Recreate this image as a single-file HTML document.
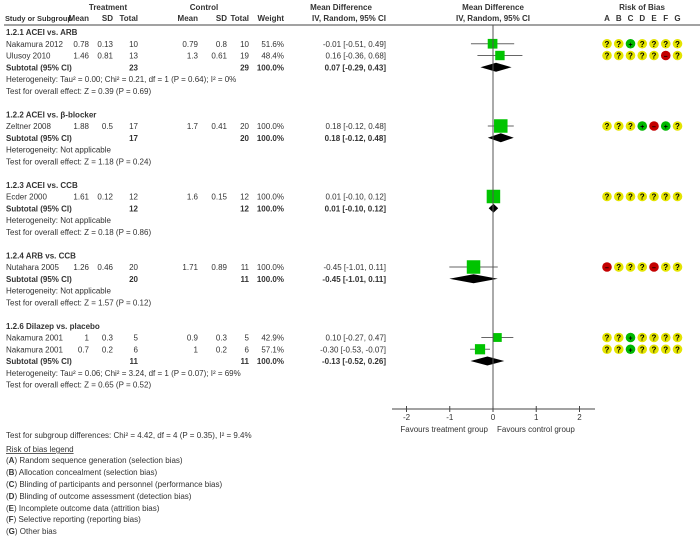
<!DOCTYPE html>
<html><head><meta charset="utf-8">
<style>
html,body{margin:0;padding:0;background:#fff;}
svg{display:block;font-family:"Liberation Sans",Arial,sans-serif;font-size:8px;fill:#333;}
.b{font-weight:bold;}
</style></head>
<body>
<svg id="chart" width="700" height="545" viewBox="0 0 700 545">
<g>
<text x="108" y="10" text-anchor="middle" class="b">Treatment</text>
<text x="204" y="10" text-anchor="middle" class="b">Control</text>
<text x="341" y="10" text-anchor="middle" class="b">Mean Difference</text>
<text x="493" y="10" text-anchor="middle" class="b">Mean Difference</text>
<text x="642" y="10" text-anchor="middle" class="b">Risk of Bias</text>
<text x="5" y="21" class="b" style="font-size:7.4px">Study or Subgroup</text>
<text x="89" y="21" text-anchor="end" class="b">Mean</text>
<text x="113" y="21" text-anchor="end" class="b">SD</text>
<text x="138" y="21" text-anchor="end" class="b">Total</text>
<text x="198" y="21" text-anchor="end" class="b">Mean</text>
<text x="227" y="21" text-anchor="end" class="b">SD</text>
<text x="249" y="21" text-anchor="end" class="b">Total</text>
<text x="284" y="21" text-anchor="end" class="b">Weight</text>
<text x="386" y="21" text-anchor="end" class="b">IV, Random, 95% CI</text>
<text x="493" y="21" text-anchor="middle" class="b">IV, Random, 95% CI</text>
</g>
<line x1="4" y1="25" x2="700" y2="25" stroke="#444" stroke-width="1"/>
<g id="rows"></g>
<g id="plot"></g>
<g>
<text x="6" y="438">Test for subgroup differences: Chi² = 4.42, df = 4 (P = 0.35), I² = 9.4%</text>
<text x="6" y="452" text-decoration="underline">Risk of bias legend</text>
<text x="6" y="463">(<tspan class="b">A</tspan>) Random sequence generation (selection bias)</text>
<text x="6" y="475">(<tspan class="b">B</tspan>) Allocation concealment (selection bias)</text>
<text x="6" y="487">(<tspan class="b">C</tspan>) Blinding of participants and personnel (performance bias)</text>
<text x="6" y="499">(<tspan class="b">D</tspan>) Blinding of outcome assessment (detection bias)</text>
<text x="6" y="511">(<tspan class="b">E</tspan>) Incomplete outcome data (attrition bias)</text>
<text x="6" y="522">(<tspan class="b">F</tspan>) Selective reporting (reporting bias)</text>
<text x="6" y="534">(<tspan class="b">G</tspan>) Other bias</text>
</g>
</svg>
<script>
// row kinds: h=group header, s=study, t=subtotal, n=note
const rowKinds = ["h","s","s","t","n","n","","h","s","t","n","n","","h","s","t","n","n","","h","s","t","n","n","","h","s","s","t","n","n"];
const rowLabels = ["1.2.1 ACEI vs. ARB","Nakamura 2012","Ulusoy 2010","Subtotal (95% CI)","Heterogeneity: Tau² = 0.00; Chi² = 0.21, df = 1 (P = 0.64); I² = 0%","Test for overall effect: Z = 0.39 (P = 0.69)","",
"1.2.2 ACEI vs. β-blocker","Zeltner 2008","Subtotal (95% CI)","Heterogeneity: Not applicable","Test for overall effect: Z = 1.18 (P = 0.24)","",
"1.2.3 ACEI vs. CCB","Ecder 2000","Subtotal (95% CI)","Heterogeneity: Not applicable","Test for overall effect: Z = 0.18 (P = 0.86)","",
"1.2.4 ARB vs. CCB","Nutahara 2005","Subtotal (95% CI)","Heterogeneity: Not applicable","Test for overall effect: Z = 1.57 (P = 0.12)","",
"1.2.6 Dilazep vs. placebo","Nakamura 2001","Nakamura 2001","Subtotal (95% CI)","Heterogeneity: Tau² = 0.06; Chi² = 3.24, df = 1 (P = 0.07); I² = 69%","Test for overall effect: Z = 0.65 (P = 0.52)"];
const tMean = ["","0.78","1.46","","","","","","1.88","","","","","","1.61","","","","","","1.26","","","","","","1","0.7","","",""];
const tSD   = ["","0.13","0.81","","","","","","0.5","","","","","","0.12","","","","","","0.46","","","","","","0.3","0.2","","",""];
const tTot  = ["","10","13","23","","","","","17","17","","","","","12","12","","","","","20","20","","","","","5","6","11","",""];
const cMean = ["","0.79","1.3","","","","","","1.7","","","","","","1.6","","","","","","1.71","","","","","","0.9","1","","",""];
const cSD   = ["","0.8","0.61","","","","","","0.41","","","","","","0.15","","","","","","0.89","","","","","","0.3","0.2","","",""];
const cTot  = ["","10","19","29","","","","","20","20","","","","","12","12","","","","","11","11","","","","","5","6","11","",""];
const weight = [null,51.6,48.4,100,null,null,null,null,100,100,null,null,null,null,100,100,null,null,null,null,100,100,null,null,null,null,42.9,57.1,100,null,null];
const md   = [null,-0.01,0.16,0.07,null,null,null,null,0.18,0.18,null,null,null,null,0.01,0.01,null,null,null,null,-0.45,-0.45,null,null,null,null,0.10,-0.30,-0.13,null,null];
const ciLo = [null,-0.51,-0.36,-0.29,null,null,null,null,-0.12,-0.12,null,null,null,null,-0.10,-0.10,null,null,null,null,-1.01,-1.01,null,null,null,null,-0.27,-0.53,-0.52,null,null];
const ciHi = [null,0.49,0.68,0.43,null,null,null,null,0.48,0.48,null,null,null,null,0.12,0.12,null,null,null,null,0.11,0.11,null,null,null,null,0.47,-0.07,0.26,null,null];
// risk of bias: ?=unclear, +=low, -=high
const bias = {1:"??+????",2:"?????-?",8:"???+-+?",14:"???????",20:"-???-??",26:"??+????",27:"??+????"};
const tickValues = [-2,-1,0,1,2];
const tickLabels = ["-2","-1","0","1","2"];
const biasLetters = ["A","B","C","D","E","F","G"];

const NS="http://www.w3.org/2000/svg";
function mk(tag,attrs,parent,txt){const e=document.createElementNS(NS,tag);for(const k in attrs)e.setAttribute(k,attrs[k]);if(txt!==undefined)e.textContent=txt;parent.appendChild(e);return e;}
const xScale = v => 493 + v*43.25;
const yRow = k => 32 + 11.75*k;
const rows=document.getElementById('rows'), plot=document.getElementById('plot');
const fmt=v=>(v<0?"-":"")+Math.abs(v).toFixed(2);

rowKinds.forEach((kind,k)=>{
  if(!kind) return;
  const y=yRow(k)+3;
  const g=mk('g',{},rows);
  
  
  const bold=(kind==='h'||kind==='t')?'b':'';
  const lab=mk('text',{x:6,y:y,class:bold},g,rowLabels[k]);
  
  
  if(kind==='s'||kind==='t'){
    const cols=[[89,tMean[k]],[113,tSD[k]],[138,tTot[k]],[198,cMean[k]],[227,cSD[k]],[249,cTot[k]],[284,weight[k].toFixed(1)+"%"],[386,fmt(md[k])+" ["+fmt(ciLo[k])+", "+fmt(ciHi[k])+"]"]];
    cols.forEach(c=>{if(c[1]!=="") mk('text',{x:c[0],y:y,'text-anchor':'end',class:bold},g,c[1]);});
  }
  const cy=yRow(k);
  if(kind==='s'){
    const ci=mk('line',{x1:xScale(ciLo[k]),x2:xScale(ciHi[k]),y1:cy,y2:cy,stroke:'#666','stroke-width':1},plot);
    
    
    const s=13.5*Math.sqrt(weight[k]/100);
    const sq=mk('rect',{x:xScale(md[k])-s/2,y:cy-s/2,width:s,height:s,fill:'#00c400'},plot);
    
    
    const str=bias[k];
    for(let i=0;i<7;i++){
      const cx=607+i*11.75, ch=str[i];
      const col=ch==='?'?'#e4e400':ch==='+'?'#00b800':'#c40000';
      const c=mk('circle',{cx:cx,cy:cy,r:4.8,fill:col},plot);
      
      
      mk('text',{x:cx,y:cy+3,'text-anchor':'middle',class:'b',style:'fill:#000;font-size:'+(ch==='?'?'8px':'7px')},plot,ch==='-'?'–':ch);
    }
  }
  if(kind==='t'){
    const d=mk('polygon',{points:`${xScale(ciLo[k])},${cy} ${xScale(md[k])},${cy-4.5} ${xScale(ciHi[k])},${cy} ${xScale(md[k])},${cy+4.5}`,fill:'#000'},plot);
    
    
  }
});
const z=mk('line',{x1:xScale(0),x2:xScale(0),y1:25,y2:409,stroke:'#555','stroke-width':1},plot);


const ax=mk('line',{x1:392,x2:595,y1:409,y2:409,stroke:'#444','stroke-width':1},plot);


tickValues.forEach((v,i)=>{
  mk('line',{x1:xScale(v),x2:xScale(v),y1:406,y2:412,stroke:'#444','stroke-width':1},plot);
  const t=mk('text',{x:xScale(v),y:420,'text-anchor':'middle'},plot,tickLabels[i]);
  
  
});
const f1=mk('text',{x:488,y:432,'text-anchor':'end'},plot,'Favours treatment group');


const f2=mk('text',{x:497,y:432},plot,'Favours control group');


biasLetters.forEach((L,i)=>{
  const t=mk('text',{x:607+i*11.75,y:21,'text-anchor':'middle',class:'b'},plot,L);
  
  
});
</script>
</body></html>
